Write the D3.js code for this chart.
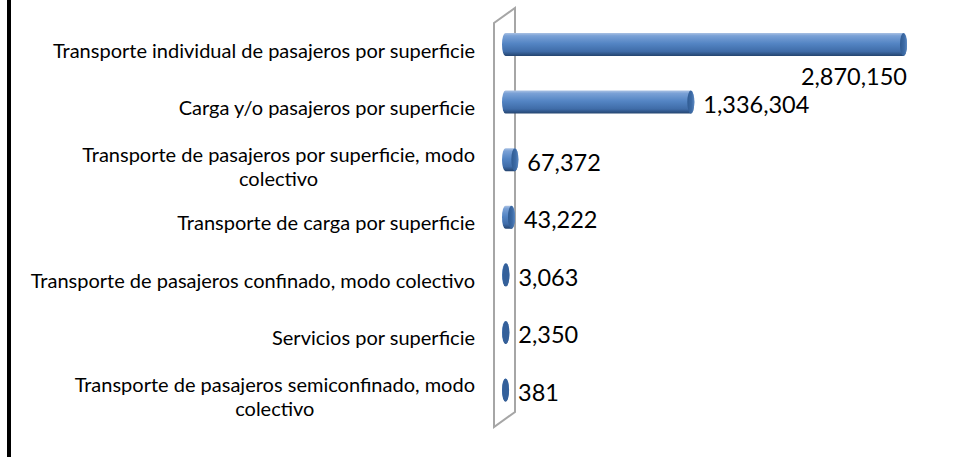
<!DOCTYPE html>
<html>
<head>
<meta charset="utf-8">
<script src="https://cdn.jsdelivr.net/npm/d3@7"></script>
<style>
  body { margin: 0; background: #fff; }
  svg { display: block; }
  .cat { font-family: Lato, "Open Sans", sans-serif; font-size: 20px; fill: #000; }
  .val { font-family: Lato, "Open Sans", sans-serif; font-size: 23.5px; fill: #000; }
</style>
</head>
<body>
<div class="chart"></div>
<script>
var width = 959, height = 458;

var categorias = [
  "Transporte individual de pasajeros por superficie",
  "Carga y/o pasajeros por superficie",
  "Transporte de pasajeros por superficie, modo colectivo",
  "Transporte de carga por superficie",
  "Transporte de pasajeros confinado, modo colectivo",
  "Servicios por superficie",
  "Transporte de pasajeros semiconfinado, modo colectivo"
];
var valores = [2870150, 1336304, 67372, 43222, 3063, 2350, 381];

var svg = d3.select(".chart").append("svg")
  .attr("width", width)
  .attr("height", height);

var defs = svg.append("defs");
var grad = defs.append("linearGradient")
  .attr("id", "cil")
  .attr("x1", 0).attr("y1", 0).attr("x2", 0).attr("y2", 1);
grad.selectAll("stop")
  .data([[0, "#a9c1e3"], [0.12, "#7aa1d6"], [0.45, "#5485c4"], [0.8, "#3f6ca8"], [1, "#24446f"]])
  .enter().append("stop")
  .attr("offset", function(d){ return d[0]; })
  .attr("stop-color", function(d){ return d[1]; });

var gradCap = defs.append("linearGradient")
  .attr("id", "tapa")
  .attr("x1", 0).attr("y1", 0).attr("x2", 1).attr("y2", 0);
gradCap.selectAll("stop")
  .data([[0, "#2f5a91"], [0.6, "#3d6ba6"], [1, "#5a87c0"]])
  .enter().append("stop")
  .attr("offset", function(d){ return d[0]; })
  .attr("stop-color", function(d){ return d[1]; });

// left border of the chart
svg.append("rect")
  .attr("x", 7).attr("y", 0)
  .attr("width", 4).attr("height", 457)
  .attr("fill", "#000");

var x = d3.scaleLinear()
  .domain([0, 3000000])
  .range([502, 918]);

var y = d3.scalePoint()
  .domain(categorias)
  .range([44.5, 390]);

var barH = 23, rx = 3.5;

// back wall (3d)
svg.append("path")
  .attr("d", "M494,427 L494,23 L515,8 L515,412 Z")
  .attr("fill", "none")
  .attr("stroke", "#a6a6a6")
  .attr("stroke-width", 2);

var bars = svg.selectAll(".barra")
  .data(valores)
  .enter().append("g")
  .attr("class", "barra");

bars.each(function(v, i){
  var g = d3.select(this);
  var cy = y(categorias[i]);
  var x0 = x(0) + rx, x1 = x(v) + rx;
  var top = cy - barH / 2, ry = barH / 2;
  var p = "M" + x0 + "," + top +
    " L" + x1 + "," + top +
    " A" + rx + "," + ry + " 0 0 1 " + x1 + "," + (top + barH) +
    " L" + x0 + "," + (top + barH) +
    " A" + rx + "," + ry + " 0 0 1 " + x0 + "," + top + " Z";
  g.append("path")
    .attr("d", p)
    .attr("fill", "url(#cil)");
  g.append("ellipse")
    .attr("cx", x1).attr("cy", cy)
    .attr("rx", rx).attr("ry", ry)
    .attr("fill", x1 - x0 < 3 ? "#34609a" : "url(#tapa)");
});

// value labels
var fmt = d3.format(",");
svg.selectAll(".val")
  .data(valores)
  .enter().append("text")
  .attr("class", "val")
  .text(function(d){ return fmt(d); })
  .each(function(v, i){
    var t = d3.select(this);
    var cy = y(categorias[i]);
    var xe = x(v) + 2 * rx;
    var w = this.getComputedTextLength();
    if (xe + 9 + w > width - 20) {
      t.attr("x", xe).attr("y", cy + 40).attr("text-anchor", "end");
    } else {
      t.attr("x", xe + 9).attr("y", cy + 11);
    }
  });

// category labels, wrapped and centred inside a right-aligned block
var maxW = 455;
var right = 475;
svg.selectAll(".cat")
  .data(categorias)
  .enter().append("text")
  .attr("class", "cat")
  .each(function(d){
    var t = d3.select(this);
    var words = d.split(" "), lines = [], line = [];
    words.forEach(function(w){
      line.push(w);
      t.text(line.join(" "));
      if (this.getComputedTextLength() > maxW && line.length > 1) {
        line.pop();
        lines.push(line.join(" "));
        line = [w];
      }
    }, this);
    lines.push(line.join(" "));
    t.text(null);
    var cy = y(d);
    var widths = lines.map(function(l){
      var tmp = t.append("tspan").text(l);
      var w = tmp.node().getComputedTextLength();
      tmp.remove();
      return w;
    });
    var bw = d3.max(widths);
    var base = cy + 13 - (lines.length - 1) * 11;
    lines.forEach(function(l, k){
      t.append("tspan")
        .attr("x", right - bw / 2)
        .attr("y", base + k * 24)
        .attr("text-anchor", "middle")
        .text(l);
    });
  });
</script>
</body>
</html>
